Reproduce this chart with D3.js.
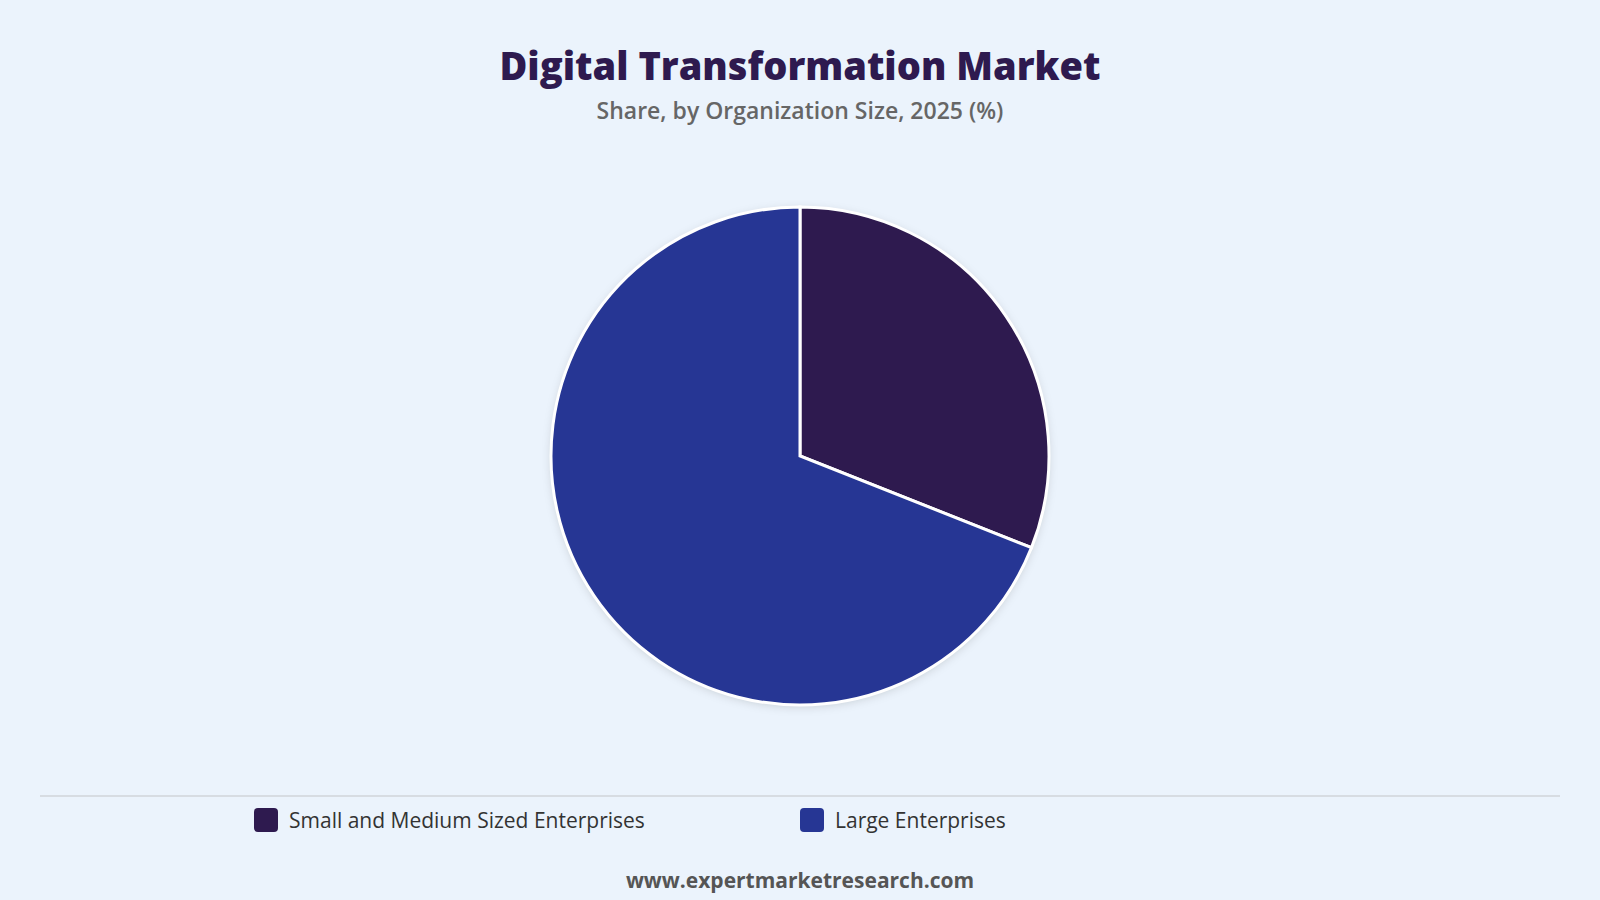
<!DOCTYPE html>
<html><head><meta charset="utf-8">
<script src="https://cdn.jsdelivr.net/npm/d3@7"></script>
<style>
body{margin:0;background:#ebf3fc;font-family:"Open Sans","Noto Sans",sans-serif}
</style></head>
<body><svg id="chart" width="1600" height="900"></svg>
<script>
const categories = ['Small and Medium Sized Enterprises', 'Large Enterprises']
const shares = [31, 69]
const colors = ['#2e1a4f', '#263694']

const svg = d3.select('#chart')
const w = 1600, cx = 800, cy = 456, r = 249

svg.append('rect').attr('width', w).attr('height', 900).attr('fill', '#ebf3fc')

svg.append('text').text('Digital Transformation Market')
  .attr('x', cx).attr('y', 80).attr('text-anchor', 'middle')
  .style('font', '800 38px "Open Sans", sans-serif').style('fill', '#2e1a4f')
svg.append('text').text('Share, by Organization Size, 2025 (%)')
  .attr('x', cx).attr('y', 119).attr('text-anchor', 'middle')
  .style('font', '600 23px "Open Sans", sans-serif').style('fill', '#666')

const defs = svg.append('defs')
const f = defs.append('filter').attr('id', 'sh').attr('x', '-20%').attr('y', '-20%').attr('width', '140%').attr('height', '140%')
f.append('feDropShadow').attr('dx', 0).attr('dy', 2).attr('stdDeviation', 5).attr('flood-color', '#000').attr('flood-opacity', 0.15)

const pie = d3.pie().sort(null)(shares)
const arc = d3.arc().innerRadius(0).outerRadius(r)
const g = svg.append('g').attr('transform', `translate(${cx},${cy})`)
g.append('circle').attr('r', r).attr('fill', '#fff').attr('filter', 'url(#sh)')
g.selectAll('path').data(pie).enter().append('path')
  .attr('d', arc).attr('fill', (d, i) => colors[i])
  .attr('stroke', '#fff').attr('stroke-width', 3)

svg.append('line').attr('x1', 40).attr('x2', 1560).attr('y1', 796).attr('y2', 796)
  .attr('stroke', '#d0d4da').attr('stroke-width', 1.5)

const legendX = [254, 800]
const lg = svg.selectAll('.lg').data(categories).enter().append('g')
  .attr('transform', (d, i) => `translate(${legendX[i]},808)`)
lg.append('rect').attr('width', 24).attr('height', 24).attr('rx', 4).attr('fill', (d, i) => colors[i])
lg.append('text').text(d => d).attr('x', 35).attr('y', 20)
  .style('font', '21px "Open Sans", sans-serif').style('fill', '#333')

svg.append('text').text('www.expertmarketresearch.com')
  .attr('x', cx).attr('y', 888).attr('text-anchor', 'middle')
  .style('font', '700 21px "Open Sans", sans-serif').style('fill', '#555')
</script></body></html>
